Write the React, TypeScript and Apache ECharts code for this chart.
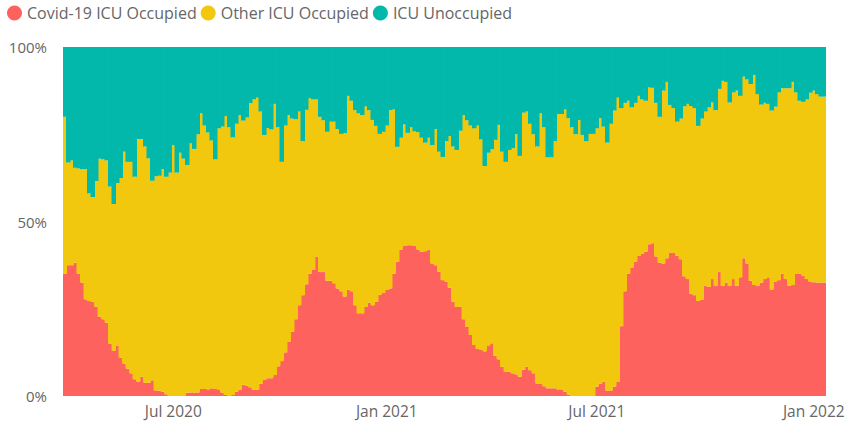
import React, { useEffect, useRef } from "react";
import * as echarts from "echarts";

// Each bar covers a 3-day period, starting 30 Mar 2020.
const START_DATE = Date.UTC(2020, 2, 30);
const DAYS_PER_BAR = 3;
const DAY_MS = 86400000;

// Share of ICU beds occupied by Covid-19 patients (%), one value per period.
const covidShare = [
  35, 37.5, 37.5, 38.2, 35, 32.5, 27.7, 27.2, 27, 25.6,
  22.7, 22, 21, 15, 13, 14.5, 11, 9.3, 7.8, 6.5,
  4.8, 4.1, 5.5, 3.8, 3.8, 4.5, 1.6, 1.5, 1.2, 0.5,
  0, 0, 0, 0, 0, 0.9, 1, 1, 1, 2,
  2, 1.9, 2.2, 2, 1.9, 1, 0.3, 0, 0.3, 1.2,
  1.8, 3.2, 3, 2.5, 1.8, 1.8, 3.5, 4.6, 5.1, 5.1,
  6, 8.5, 10, 12.5, 15.5, 18.4, 22, 26, 28.9, 32,
  35, 36.1, 40, 35.5, 35.5, 33, 33, 32.3, 30.8, 30,
  28.5, 30.5, 30, 26, 23.7, 23.7, 25.5, 26.7, 26, 27,
  29, 29.5, 30.4, 30.8, 35, 38.5, 42, 43, 43.2, 43.2,
  43, 42, 41.3, 41.5, 42, 38, 37.5, 35.6, 33.2, 32.8,
  31, 27, 25.5, 25.6, 22, 19.8, 17.5, 14.6, 13.5, 13.2,
  12.8, 14.5, 15.1, 11.5, 10.5, 8.4, 7, 7, 6.5, 6.2,
  5.5, 7.5, 8.4, 7.4, 6.5, 3.6, 3.6, 2.8, 2.2, 2.2,
  2.2, 1.9, 1.9, 1.2, 0.4, 0, 0, 0, 0, 0,
  0, 0, 2.7, 3.5, 4.1, 1.5, 1.6, 2.7, 4, 20,
  30, 35, 36.8, 38.5, 40.1, 40.8, 41.3, 43.5, 43.8, 40,
  38.2, 38, 39.5, 41.1, 41, 40.2, 39.2, 34.3, 33.5, 29.2,
  28.9, 27.2, 27.5, 31.5, 31.3, 33.5, 31.5, 35.5, 31.5, 32.5,
  31.5, 33.5, 31.5, 34, 39.5, 38, 33, 31.8, 31.5, 32.5,
  33.5, 34, 30.5, 32.8, 33.2, 35, 33.5, 31.6, 31.8, 35.1,
  35.1, 34.5, 33.5, 32.8, 32.6, 32.5, 32.5, 32.5,
];

// Share of ICU beds occupied by any patient (%), one value per period.
const occupiedShare = [
  80, 66.9, 67.5, 65.4, 65.2, 65, 65, 58, 57, 61.6,
  68, 67.8, 67.5, 60, 55, 61, 62.5, 70, 67.1, 67.1,
  62.8, 73.6, 73.6, 71.5, 68.1, 61.7, 63, 63.1, 65, 62.8,
  64, 71.9, 64, 69.7, 68, 66.2, 72.4, 70.8, 75, 81,
  77.5, 75.5, 73.2, 67.8, 76.7, 77.2, 80.2, 77, 74.1, 78,
  80.5, 78.9, 79.8, 83.9, 85, 85.5, 81.5, 74.8, 76.8, 76.4,
  83.7, 77, 67.1, 77.5, 80.5, 79.5, 79.3, 81.5, 73, 82,
  85.3, 85, 85, 80, 79, 75.7, 78.6, 78.6, 76.5, 75.1,
  75.3, 86, 84.6, 81.9, 81, 80.5, 83, 81.9, 79.1, 77.4,
  75.1, 75.7, 77.5, 81.9, 82.1, 71.4, 74, 77.8, 75.4, 77,
  75.8, 75.6, 74, 72.6, 74, 71.9, 76.5, 70, 68.5, 73,
  74.5, 71.5, 70.5, 76, 80.5, 79, 77.5, 76.7, 77.5, 73.5,
  65.9, 69.7, 70.7, 73.4, 77.7, 70, 67.1, 70.5, 71, 75,
  68.8, 81.2, 81.5, 78, 75, 71.5, 81, 77, 68.4, 68.4,
  73, 80.8, 80.8, 82.1, 79.6, 77, 75, 79.1, 74.8, 73,
  75.1, 75.1, 76.7, 79.6, 77.2, 72.6, 78, 81.8, 85.5, 82.5,
  84, 84.6, 82.7, 84, 86, 85, 84.6, 88.4, 88.3, 84,
  80, 87.5, 90, 83.4, 82.5, 78.6, 79.5, 83, 83.7, 83.1,
  82.5, 77.4, 79.5, 81.5, 82.7, 84.1, 81.9, 88, 90.3, 90,
  84.1, 87, 87.5, 86, 91.5, 90.7, 89.4, 92, 86.5, 83.5,
  84, 83.7, 81.8, 82.9, 87, 88.2, 88.2, 88.2, 90, 87,
  84.6, 84.3, 85, 86.9, 87.5, 86.5, 85.8, 85.8,
];

const seriesNames = ["Covid-19 ICU Occupied", "Other ICU Occupied", "ICU Unoccupied"];
const seriesColors = ["#FD625E", "#F2C80F", "#01B8AA"];
const yTicks = [0, 50, 100];
const MONTHS = ["Jan", "Feb", "Mar", "Apr", "May", "Jun", "Jul", "Aug", "Sep", "Oct", "Nov", "Dec"];

const FONT = "'Open Sans', 'Noto Sans', sans-serif";
const TEXT_COLOR = "#666666";

function periodStart(i: number): Date {
  return new Date(START_DATE + i * DAYS_PER_BAR * DAY_MS);
}

// Returns "Jul 2020" style text when the period holds the 1st of January or July.
function halfYearMark(i: number): string | null {
  for (let d = 0; d < DAYS_PER_BAR; d++) {
    const date = new Date(START_DATE + (i * DAYS_PER_BAR + d) * DAY_MS);
    const m = date.getUTCMonth();
    if (date.getUTCDate() === 1 && (m === 0 || m === 6)) {
      return `${MONTHS[m]} ${date.getUTCFullYear()}`;
    }
  }
  return null;
}

export default function App() {
  const ref = useRef<HTMLDivElement>(null);

  useEffect(() => {
    if (!ref.current) return;
    const chart = echarts.init(ref.current, undefined, { renderer: "svg" });

    const categories = covidShare.map((_, i) => periodStart(i).toISOString().slice(0, 10));
    const otherShare = occupiedShare.map((v, i) => +(v - covidShare[i]).toFixed(2));
    const unoccupiedShare = occupiedShare.map((v) => +(100 - v).toFixed(2));
    const values = [covidShare, otherShare, unoccupiedShare];

    // Bars are a little wider than their band so neighbours overlap and no
    // hairline seams show between them.
    const series = values.map((arr, k) => ({
      name: seriesNames[k],
      type: "bar" as const,
      stack: "beds",
      barWidth: 4.5,
      itemStyle: { color: seriesColors[k] },
      data: arr,
    }));

    chart.setOption({
      animation: false,
      backgroundColor: "#ffffff",
      textStyle: { fontFamily: FONT },
      legend: {
        left: 7,
        top: 5,
        padding: 0,
        icon: "circle",
        itemWidth: 15,
        itemHeight: 15,
        itemGap: 4,
        textStyle: { fontFamily: FONT, fontSize: 16, color: TEXT_COLOR },
        data: seriesNames,
      },
      grid: { left: 63, right: 27, top: 47, bottom: 30, containLabel: false },
      xAxis: {
        type: "category",
        data: categories,
        boundaryGap: true,
        axisLine: { show: false },
        axisTick: { show: false },
        splitLine: { show: false },
        axisLabel: {
          interval: (index: number) => halfYearMark(index) !== null,
          formatter: (_: string, index: number) => halfYearMark(index) ?? "",
          margin: 7,
          fontFamily: FONT,
          fontSize: 15.5,
          color: TEXT_COLOR,
        },
      },
      yAxis: {
        type: "value",
        min: yTicks[0],
        max: yTicks[yTicks.length - 1],
        interval: yTicks[1] - yTicks[0],
        axisLine: { show: false },
        axisTick: { show: false },
        splitLine: { show: false },
        axisLabel: {
          formatter: "{value}%",
          margin: 16,
          fontFamily: FONT,
          fontSize: 15,
          color: TEXT_COLOR,
        },
      },
      series,
    });

    return () => chart.dispose();
  }, []);

  return (
    <div
      ref={ref}
      style={{ position: "fixed", left: 0, top: 0, width: 853, height: 426, background: "#ffffff" }}
    />
  );
}
